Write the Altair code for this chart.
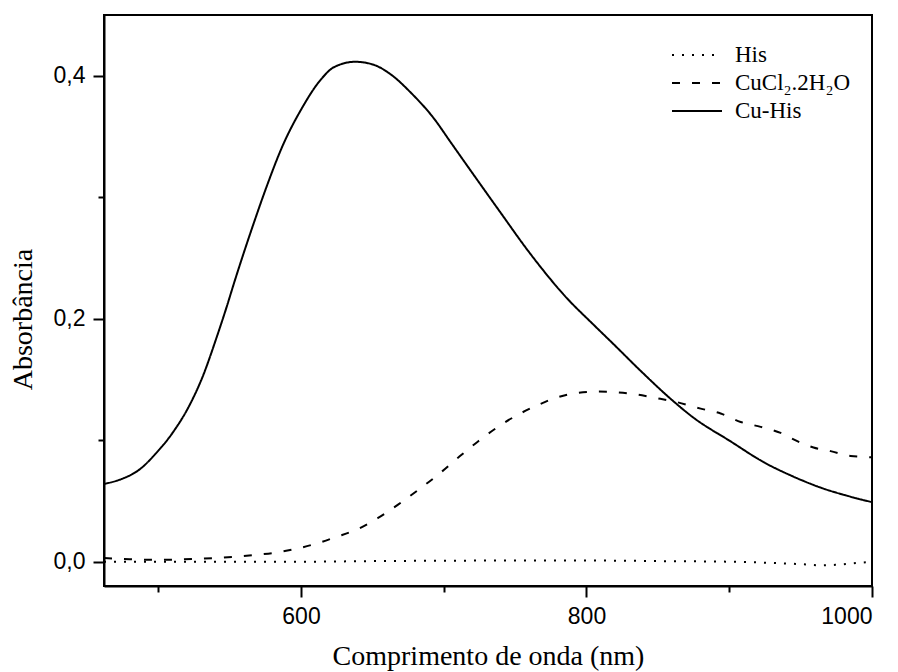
import altair as alt
import pandas as pd

# ---- data ----
his_nm = [462, 500, 550, 600, 650, 700, 750, 800, 850, 900, 930, 950, 965, 975, 990, 1000]
his_abs = [0.0, 0.0, 0.0, 0.0, 0.0005, 0.0008, 0.001, 0.001, 0.0005, 0.0, -0.001, -0.002, -0.003, -0.0025, -0.001, 0.0]

cucl_nm = [462, 480, 494, 510, 529, 553, 569, 583, 597, 611, 625, 640, 654, 668, 682, 696, 710, 724,
           738, 752, 766, 780, 794, 808, 820, 833, 847, 861, 880, 894, 908, 922, 936, 948, 959, 971,
           985, 1000]
cucl_abs = [0.003, 0.002, 0.0016, 0.0017, 0.0025, 0.004, 0.0058, 0.0076, 0.0107, 0.015, 0.0205, 0.027,
            0.036, 0.047, 0.059, 0.0716, 0.0856, 0.099, 0.111, 0.121, 0.129, 0.1355, 0.139, 0.140,
            0.1395, 0.138, 0.135, 0.132, 0.126, 0.122, 0.115, 0.111, 0.106, 0.099, 0.094, 0.091,
            0.087, 0.086]

cuhis_nm = [462, 473, 487, 499, 510, 522, 531, 541, 548, 553, 567, 576, 587, 600, 614, 623, 638, 651,
            663, 677, 693, 705, 717, 740, 759, 787, 805, 819, 838, 859, 875, 901, 924, 945, 964, 985, 1000]
cuhis_abs = [0.064, 0.0675, 0.076, 0.090, 0.106, 0.129, 0.152, 0.185, 0.210, 0.229, 0.279, 0.309, 0.342,
             0.372, 0.397, 0.407, 0.4115, 0.409, 0.401, 0.386, 0.365, 0.345, 0.325, 0.287, 0.256, 0.216,
             0.195, 0.179, 0.157, 0.134, 0.1185, 0.099, 0.082, 0.070, 0.061, 0.0535, 0.049]

series_names = ["His", "CuCl₂.2H₂O", "Cu-His"]
series_dash = [[2, 8], [8, 12], [1, 0]]
x_ticks = [500, 600, 700, 800, 900, 1000]
y_ticks = [0.0, 0.1, 0.2, 0.3, 0.4]

rows = []
for name, xs, ys in [(series_names[0], his_nm, his_abs),
                     (series_names[1], cucl_nm, cucl_abs),
                     (series_names[2], cuhis_nm, cuhis_abs)]:
    for i, (a, b) in enumerate(zip(xs, ys)):
        rows.append({"serie": name, "nm": a, "abs": b, "order": i})
df = pd.DataFrame(rows)

serif = "Liberation Serif"
sans = "Liberation Sans"

lines = alt.Chart(df).mark_line(color="black", strokeWidth=2, interpolate="monotone").encode(
    x=alt.X("nm:Q",
            scale=alt.Scale(domain=[462, 1000], nice=False, zero=False),
            axis=alt.Axis(
                title="Comprimento de onda (nm)",
                values=x_ticks,
                labelExpr="datum.value % 200 == 0 ? format(datum.value, 'd') : ''",
                tickSize={"condition": {"test": "datum.value % 200 == 0", "value": 11}, "value": 6},
                labelPadding=8,
                titleFont=serif, titleFontSize=28, titleFontWeight="normal",
                titleBaseline="alphabetic", titleY=78,
            )),
    y=alt.Y("abs:Q",
            scale=alt.Scale(domain=[-0.02, 0.45], nice=False, zero=False),
            axis=alt.Axis(
                title="Absorbância",
                values=y_ticks,
                labelExpr="round(datum.value*10) % 2 == 0 ? replace(format(datum.value, '.1f'), '.', ',') : ''",
                tickSize={"condition": {"test": "round(datum.value*10) % 2 == 0", "value": 11}, "value": 6},
                labelPadding=8,
                titleFont=serif, titleFontSize=28, titleFontWeight="normal",
                titleAngle=-90, titleAlign="center", titleBaseline="middle",
                titleX=-81, titleY=304,
            )),
    strokeDash=alt.StrokeDash("serie:N",
                              scale=alt.Scale(domain=series_names, range=series_dash),
                              legend=None),
    order="order:Q",
)

# hand-made legend (top right inside the frame)
legend_layers = []
row_y = [40, 68, 96]
for name, dash, yy in zip(series_names, series_dash, row_y):
    legend_layers.append(
        alt.Chart(pd.DataFrame({"t": [name]})).mark_rule(color="black", strokeWidth=2, strokeDash=dash).encode(
            x=alt.value(568), x2=alt.value(618), y=alt.value(yy)
        )
    )
    legend_layers.append(
        alt.Chart(pd.DataFrame({"t": [name]})).mark_text(
            font=serif, fontSize=23, color="black", align="left", baseline="middle"
        ).encode(x=alt.value(631), y=alt.value(yy), text="t:N")
    )

chart = alt.layer(lines, *legend_layers).properties(
    width=768, height=571,
    autosize="none",
    padding={"left": 104, "top": 15, "right": 26, "bottom": 86},
    background="white",
).configure_view(
    stroke="black", strokeWidth=2
).configure_axis(
    grid=False,
    domainColor="black", domainWidth=2,
    tickColor="black", tickWidth=2,
    labelFont=sans, labelFontSize=23, labelColor="black",
    titleColor="black",
)

chart.save("out.html", embed_options={"renderer": "svg", "actions": False})
